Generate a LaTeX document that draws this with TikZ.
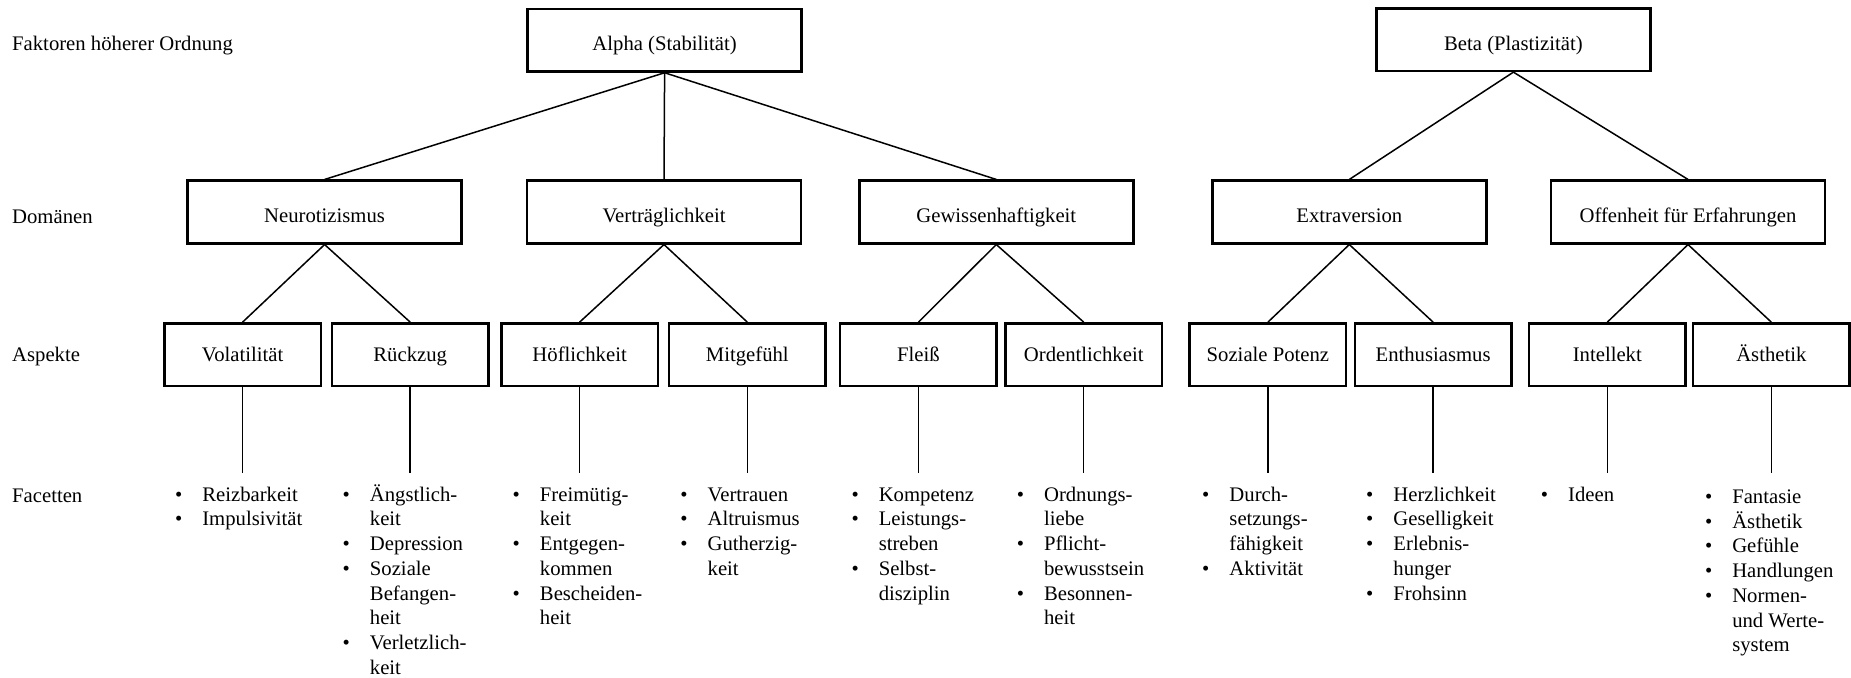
\documentclass[tikz,border=0pt]{standalone}
\usepackage{fontspec}
\setmainfont{Liberation Serif}
\newcommand{\facetlist}[1]{\begin{tabular}[t]{@{}l@{\hspace{10pt}}l@{}}#1\end{tabular}}
\begin{document}
\begin{tikzpicture}[x=0.5pt,y=-0.5pt,
  every node/.style={font=\fontsize{10.35}{12.35}\selectfont},
  rowlabel/.style={anchor=mid west, inner sep=0pt},
  bigbox/.style={draw, line width=1.25pt, minimum width=137pt, minimum height=31.3pt,
    inner sep=0pt, text height=10.6pt, text depth=0pt},
  smallbox/.style={draw, line width=1.25pt, minimum width=78.2pt, minimum height=31.3pt,
    inner sep=0pt, text height=7pt, text depth=0pt},
  link/.style={line width=0.75pt},
  facet/.style={anchor=base west, inner sep=0pt}
]
\useasboundingbox (0,0) rectangle (1851,678);

% row labels
\node[rowlabel] (lfak) at (11.8,46) {Faktoren höherer Ordnung};
\node[rowlabel] (ldom) at (11.8,219) {Domänen};
\node[rowlabel] (lasp) at (11.8,357) {Aspekte};
\node[rowlabel] (lfac) at (11.8,497.5) {Facetten};

% higher-order factors
\node[bigbox] (alpha) at (664.6,40.2) {Alpha (Stabilität)};
\node[bigbox] (beta)  at (1513.4,39.6) {Beta (Plastizität)};

% domains
\node[bigbox] (neuro) at (324.6,212) {Neurotizismus};
\node[bigbox] (vert)  at (664,212)   {Verträglichkeit};
\node[bigbox] (gew)   at (996.3,212) {Gewissenhaftigkeit};
\node[bigbox] (extra) at (1349.3,212) {Extraversion};
\node[bigbox] (off)   at (1688,212)  {Offenheit für Erfahrungen};

% aspects
\node[smallbox] (vol)    at (242.6,354.7)  {Volatilität};
\node[smallbox] (rue)    at (410.2,354.7)  {Rückzug};
\node[smallbox] (hoef)   at (579.6,354.7)  {Höflichkeit};
\node[smallbox] (mit)    at (747.3,354.7)  {Mitgefühl};
\node[smallbox] (fleiss) at (918.4,354.7)  {Fleiß};
\node[smallbox] (ord)    at (1083.7,354.7) {Ordentlichkeit};
\node[smallbox] (soz)    at (1267.9,354.7) {Soziale Potenz};
\node[smallbox] (enth)   at (1433.1,354.7) {Enthusiasmus};
\node[smallbox] (int)    at (1607.3,354.7) {Intellekt};
\node[smallbox] (aest)   at (1771.3,354.7) {Ästhetik};

% factor -> domain
\draw[link] (alpha.south) -- (neuro.north);
\draw[link] (alpha.south) -- (vert.north);
\draw[link] (alpha.south) -- (gew.north);
\draw[link] (beta.south) -- (extra.north);
\draw[link] (beta.south) -- (off.north);

% domain -> aspect
\draw[link] (neuro.south) -- (vol.north);
\draw[link] (neuro.south) -- (rue.north);
\draw[link] (vert.south) -- (hoef.north);
\draw[link] (vert.south) -- (mit.north);
\draw[link] (gew.south) -- (fleiss.north);
\draw[link] (gew.south) -- (ord.north);
\draw[link] (extra.south) -- (soz.north);
\draw[link] (extra.south) -- (enth.north);
\draw[link] (off.south) -- (int.north);
\draw[link] (off.south) -- (aest.north);

% aspect -> facets
\coordinate (volend)    at (242.6,473);
\coordinate (rueend)    at (410.2,473);
\coordinate (hoefend)   at (579.6,473);
\coordinate (mitend)    at (747.3,473);
\coordinate (fleissend) at (918.4,473);
\coordinate (ordend)    at (1083.7,473);
\coordinate (sozend)    at (1267.9,473);
\coordinate (enthend)   at (1433.1,473);
\coordinate (intend)    at (1607.3,473);
\coordinate (aestend)   at (1771.3,473);
\foreach \a in {vol,rue,hoef,mit,fleiss,ord,soz,enth,int,aest}
  \draw[link] (\a.south) -- (\a end);

% facet lists
\node[facet] (fvol) at (174.7,501.2) {\facetlist{%
  \textbullet & Reizbarkeit\\
  \textbullet & Impulsivität}};
\node[facet] (frue) at (342.3,501.2) {\facetlist{%
  \textbullet & Ängstlich-\\
              & keit\\
  \textbullet & Depression\\
  \textbullet & Soziale\\
              & Befangen-\\
              & heit\\
  \textbullet & Verletzlich-\\
              & keit}};
\node[facet] (fhoef) at (512.3,501.2) {\facetlist{%
  \textbullet & Freimütig-\\
              & keit\\
  \textbullet & Entgegen-\\
              & kommen\\
  \textbullet & Bescheiden-\\
              & heit}};
\node[facet] (fmit) at (680,501.2) {\facetlist{%
  \textbullet & Vertrauen\\
  \textbullet & Altruismus\\
  \textbullet & Gutherzig-\\
              & keit}};
\node[facet] (ffleiss) at (851.1,501.2) {\facetlist{%
  \textbullet & Kompetenz\\
  \textbullet & Leistungs-\\
              & streben\\
  \textbullet & Selbst-\\
              & disziplin}};
\node[facet] (ford) at (1016.4,501.2) {\facetlist{%
  \textbullet & Ordnungs-\\
              & liebe\\
  \textbullet & Pflicht-\\
              & bewusstsein\\
  \textbullet & Besonnen-\\
              & heit}};
\node[facet] (fsoz) at (1201.8,501.2) {\facetlist{%
  \textbullet & Durch-\\
              & setzungs-\\
              & fähigkeit\\
  \textbullet & Aktivität}};
\node[facet] (fenth) at (1365.8,501.2) {\facetlist{%
  \textbullet & Herzlichkeit\\
  \textbullet & Geselligkeit\\
  \textbullet & Erlebnis-\\
              & hunger\\
  \textbullet & Frohsinn}};
\node[facet] (fint) at (1540.5,501.2) {\facetlist{%
  \textbullet & Ideen}};
\node[facet] (faest) at (1704.6,503.5) {\facetlist{%
  \textbullet & Fantasie\\
  \textbullet & Ästhetik\\
  \textbullet & Gefühle\\
  \textbullet & Handlungen\\
  \textbullet & Normen-\\
              & und Werte-\\
              & system}};
\end{tikzpicture}
\end{document}
